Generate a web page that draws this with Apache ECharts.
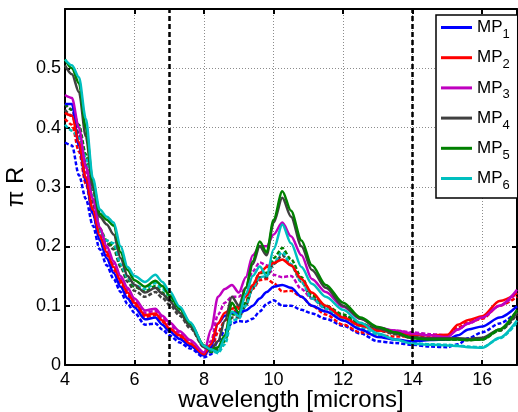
<!DOCTYPE html>
<html>
<head>
<meta charset="utf-8">
<script src="https://cdn.jsdelivr.net/npm/echarts@6/dist/echarts.min.js"></script>
<style>
html,body{margin:0;padding:0;background:#fff;}
#chart{width:518px;height:412px;}
</style>
</head>
<body>
<div id="chart"></div>
<script>
// wavelength grid (microns)
const wavelength = [4.0, 4.2, 4.4, 4.6, 4.8, 5.0, 5.2, 5.4, 5.6, 5.8, 6.0, 6.3, 6.6, 6.8, 7.0, 7.3, 7.6, 8.0, 8.2, 8.4, 8.6, 8.8, 9.0, 9.2, 9.4, 9.6, 9.8, 10.0, 10.25, 10.5, 10.8, 11.1, 11.5, 12.0, 12.5, 13.0, 13.5, 14.0, 14.5, 15.0, 15.3, 15.6, 16.0, 16.5, 17.0];

const mp1Solid  = [0.44, 0.44, 0.37, 0.31, 0.255, 0.21, 0.18, 0.155, 0.132, 0.112, 0.097, 0.077, 0.08, 0.068, 0.057, 0.044, 0.032, 0.016, 0.03, 0.07, 0.083, 0.088, 0.088, 0.092, 0.1, 0.112, 0.123, 0.132, 0.135, 0.13, 0.115, 0.1, 0.09, 0.075, 0.06, 0.047, 0.043, 0.04, 0.042, 0.043, 0.05, 0.06, 0.065, 0.08, 0.099];
const mp1Dashed = [0.375, 0.37, 0.32, 0.28, 0.235, 0.195, 0.168, 0.145, 0.123, 0.103, 0.088, 0.068, 0.07, 0.06, 0.05, 0.038, 0.028, 0.013, 0.018, 0.04, 0.058, 0.07, 0.074, 0.073, 0.078, 0.09, 0.103, 0.109, 0.1, 0.1, 0.093, 0.087, 0.078, 0.066, 0.053, 0.04, 0.037, 0.034, 0.031, 0.03, 0.035, 0.045, 0.055, 0.07, 0.09];
const mp2Solid  = [0.425, 0.42, 0.375, 0.315, 0.262, 0.218, 0.19, 0.165, 0.142, 0.122, 0.105, 0.084, 0.087, 0.075, 0.062, 0.05, 0.036, 0.018, 0.035, 0.07, 0.088, 0.095, 0.098, 0.115, 0.135, 0.155, 0.165, 0.172, 0.178, 0.168, 0.145, 0.122, 0.1, 0.08, 0.066, 0.058, 0.055, 0.051, 0.05, 0.051, 0.068, 0.076, 0.082, 0.108, 0.121];
const mp2Dashed = [0.415, 0.405, 0.36, 0.305, 0.255, 0.212, 0.185, 0.16, 0.138, 0.118, 0.101, 0.081, 0.084, 0.073, 0.06, 0.047, 0.034, 0.017, 0.025, 0.055, 0.075, 0.088, 0.095, 0.108, 0.128, 0.143, 0.145, 0.138, 0.124, 0.125, 0.115, 0.1, 0.085, 0.068, 0.055, 0.05, 0.048, 0.048, 0.047, 0.048, 0.063, 0.072, 0.078, 0.1, 0.115];
const mp3Solid  = [0.455, 0.45, 0.4, 0.335, 0.28, 0.232, 0.2, 0.175, 0.15, 0.13, 0.112, 0.092, 0.095, 0.083, 0.072, 0.057, 0.042, 0.021, 0.06, 0.115, 0.128, 0.135, 0.122, 0.148, 0.185, 0.2, 0.2, 0.22, 0.24, 0.217, 0.185, 0.145, 0.123, 0.098, 0.078, 0.063, 0.058, 0.053, 0.05, 0.047, 0.06, 0.07, 0.08, 0.1, 0.127];
const mp3Dashed = [0.44, 0.43, 0.385, 0.325, 0.27, 0.225, 0.195, 0.17, 0.146, 0.126, 0.108, 0.088, 0.091, 0.08, 0.068, 0.054, 0.04, 0.02, 0.04, 0.085, 0.105, 0.115, 0.115, 0.13, 0.158, 0.173, 0.168, 0.152, 0.148, 0.15, 0.128, 0.112, 0.095, 0.078, 0.068, 0.062, 0.058, 0.055, 0.052, 0.05, 0.06, 0.07, 0.08, 0.1, 0.122];
const mp4Solid  = [0.505, 0.49, 0.46, 0.385, 0.3, 0.25, 0.237, 0.22, 0.18, 0.15, 0.135, 0.122, 0.13, 0.12, 0.108, 0.088, 0.065, 0.03, 0.025, 0.04, 0.075, 0.115, 0.1, 0.13, 0.17, 0.2, 0.185, 0.24, 0.282, 0.25, 0.2, 0.16, 0.13, 0.1, 0.078, 0.062, 0.053, 0.047, 0.045, 0.045, 0.045, 0.044, 0.046, 0.06, 0.088];
const mp4Dashed = [0.43, 0.42, 0.39, 0.34, 0.275, 0.225, 0.205, 0.195, 0.165, 0.14, 0.125, 0.115, 0.123, 0.113, 0.102, 0.083, 0.062, 0.03, 0.022, 0.028, 0.045, 0.08, 0.08, 0.1, 0.13, 0.148, 0.148, 0.17, 0.185, 0.168, 0.14, 0.113, 0.097, 0.082, 0.068, 0.058, 0.052, 0.045, 0.043, 0.043, 0.043, 0.042, 0.044, 0.058, 0.085];
const mp5Solid  = [0.515, 0.5, 0.475, 0.4, 0.31, 0.255, 0.245, 0.235, 0.19, 0.16, 0.143, 0.132, 0.142, 0.133, 0.118, 0.095, 0.07, 0.033, 0.025, 0.03, 0.05, 0.105, 0.088, 0.13, 0.175, 0.208, 0.19, 0.245, 0.293, 0.26, 0.21, 0.168, 0.135, 0.105, 0.08, 0.064, 0.055, 0.045, 0.043, 0.043, 0.043, 0.042, 0.043, 0.06, 0.093];
const mp5Dashed = [0.44, 0.43, 0.405, 0.355, 0.29, 0.23, 0.21, 0.2, 0.168, 0.145, 0.132, 0.124, 0.133, 0.122, 0.11, 0.09, 0.067, 0.032, 0.022, 0.025, 0.04, 0.085, 0.085, 0.105, 0.135, 0.155, 0.155, 0.18, 0.197, 0.178, 0.148, 0.118, 0.1, 0.085, 0.07, 0.06, 0.053, 0.046, 0.043, 0.043, 0.043, 0.042, 0.043, 0.058, 0.09];
const mp6Solid  = [0.515, 0.505, 0.485, 0.415, 0.315, 0.262, 0.25, 0.24, 0.2, 0.165, 0.15, 0.14, 0.152, 0.14, 0.125, 0.098, 0.072, 0.032, 0.026, 0.022, 0.045, 0.09, 0.082, 0.12, 0.15, 0.166, 0.15, 0.195, 0.237, 0.205, 0.165, 0.137, 0.115, 0.093, 0.071, 0.053, 0.043, 0.036, 0.034, 0.033, 0.032, 0.03, 0.029, 0.046, 0.075];
const mp6Dashed = [0.405, 0.395, 0.383, 0.35, 0.3, 0.225, 0.21, 0.205, 0.17, 0.147, 0.135, 0.128, 0.138, 0.128, 0.117, 0.094, 0.07, 0.033, 0.024, 0.02, 0.035, 0.075, 0.078, 0.1, 0.13, 0.148, 0.15, 0.172, 0.19, 0.17, 0.14, 0.112, 0.095, 0.078, 0.063, 0.05, 0.043, 0.037, 0.035, 0.034, 0.033, 0.031, 0.03, 0.045, 0.072];

const seriesNames  = ['MP1', 'MP2', 'MP3', 'MP4', 'MP5', 'MP6'];
const seriesColors = ['#0000ff', '#ff0000', '#bf00bf', '#404040', '#008000', '#00bfbf'];
const solidValues  = [mp1Solid, mp2Solid, mp3Solid, mp4Solid, mp5Solid, mp6Solid];
const dashedValues = [mp1Dashed, mp2Dashed, mp3Dashed, mp4Dashed, mp5Dashed, mp6Dashed];
const referenceWavelengths = [7, 14];
const xRange = [4, 17];
const yRange = [0, 0.6];

const FONT = '"Liberation Sans", Arial, Helvetica, sans-serif';
const pair = v => wavelength.map((x, i) => [x, v[i]]);

const series = [];
dashedValues.forEach((v, i) => {
  series.push({
    name: seriesNames[i] + ' dashed', type: 'line', data: pair(v),
    showSymbol: false, smooth: 0.3, smoothMonotone: 'x', silent: true,
    lineStyle: { color: seriesColors[i], width: 2.5, type: [4, 2] },
    itemStyle: { color: seriesColors[i] }
  });
});
solidValues.forEach((v, i) => {
  series.push({
    name: seriesNames[i], type: 'line', data: pair(v),
    showSymbol: false, smooth: 0.3, smoothMonotone: 'x', silent: true,
    lineStyle: { color: seriesColors[i], width: 2.5 },
    itemStyle: { color: seriesColors[i] }
  });
});
series.push({
  name: 'ref', type: 'line', data: [], silent: true,
  markLine: {
    silent: true, symbol: 'none', label: { show: false },
    lineStyle: { color: '#000', width: 2.5, type: [5, 3] },
    data: referenceWavelengths.map(x => ({ xAxis: x }))
  }
});

const axisCommon = {
  axisLine: { show: true, onZero: false, lineStyle: { color: '#000', width: 2 } },
  axisTick: { show: true, inside: true, length: 5, lineStyle: { color: '#000', width: 2 } }
};

const chart = echarts.init(document.getElementById('chart'), null, { renderer: 'canvas' });
chart.setOption({
  animation: false,
  backgroundColor: '#fff',
  grid: { left: 65, right: 1, top: 9, bottom: 47, containLabel: false, outerBoundsMode: 'none' },
  legend: {
    data: seriesNames,
    orient: 'vertical',
    left: 436, top: 15,
    padding: [4, 8, 6, 5],
    itemGap: 8.2,
    itemWidth: 31, itemHeight: 3,
    icon: 'rect',
    backgroundColor: '#fff',
    borderColor: '#000', borderWidth: 1.5,
    formatter: name => '{m|MP}{s|' + name.slice(2) + '}',
    textStyle: {
      fontFamily: FONT, color: '#000',
      rich: {
        m: { fontFamily: FONT, fontSize: 17, color: '#000', lineHeight: 27, verticalAlign: 'middle' },
        s: { fontFamily: FONT, fontSize: 13, color: '#000', lineHeight: 13, verticalAlign: 'bottom' }
      }
    }
  },
  xAxis: [
    Object.assign({
      type: 'value', min: xRange[0], max: xRange[1], interval: 2, position: 'bottom',
      name: 'wavelength [microns]', nameLocation: 'middle', nameGap: 23, nameMoveOverlap: false,
      nameTextStyle: { fontFamily: FONT, fontSize: 24, color: '#000' },
      axisLabel: { fontFamily: FONT, fontSize: 18, color: '#000', margin: 6, showMaxLabel: false },
      splitLine: { show: true, lineStyle: { color: '#8c8c8c', width: 1, type: [1, 2] } }
    }, axisCommon),
    Object.assign({
      type: 'value', min: xRange[0], max: xRange[1], interval: 2, position: 'top',
      axisLabel: { show: false }, splitLine: { show: false }
    }, axisCommon)
  ],
  yAxis: [
    Object.assign({
      type: 'value', min: yRange[0], max: yRange[1], interval: 0.1, position: 'left',
      name: 'π R', nameLocation: 'middle', nameGap: 37, nameRotate: 90, nameMoveOverlap: false,
      nameTextStyle: { fontFamily: FONT, fontSize: 24, color: '#000' },
      axisLabel: { fontFamily: FONT, fontSize: 18, color: '#000', margin: 4, showMaxLabel: false,
                   formatter: v => (Math.round(v * 10) / 10).toString() },
      splitLine: { show: true, lineStyle: { color: '#8c8c8c', width: 1, type: [1, 2] } }
    }, axisCommon),
    Object.assign({
      type: 'value', min: yRange[0], max: yRange[1], interval: 0.1, position: 'right',
      axisLabel: { show: false }, splitLine: { show: false }
    }, axisCommon)
  ],
  series: series
});
</script>
</body>
</html>
